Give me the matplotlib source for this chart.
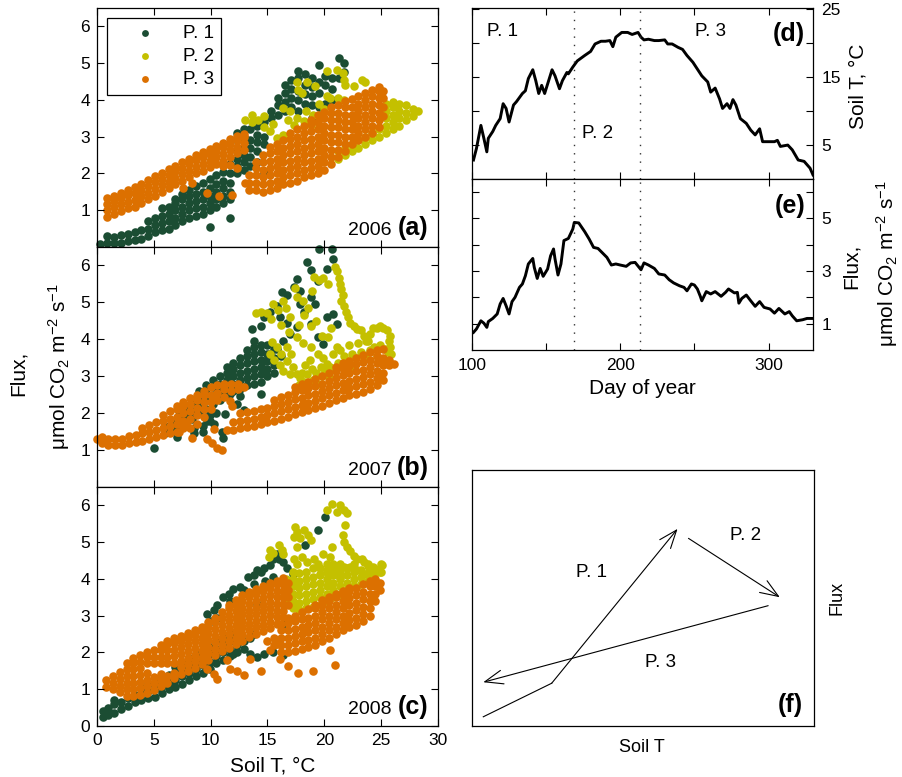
import matplotlib
matplotlib.use("Agg")
import matplotlib.pyplot as plt
from matplotlib.patches import ArrowStyle

plt.rcParams['font.family'] = ['Liberation Sans', 'DejaVu Sans']
plt.rcParams['mathtext.fontset'] = 'custom'
plt.rcParams['mathtext.rm'] = 'Liberation Sans'
plt.rcParams['mathtext.it'] = 'Liberation Sans:italic'
plt.rcParams['mathtext.bf'] = 'Liberation Sans:bold'

# ---------------------------------------------------------------------------
# Flux vs soil temperature, grouped by seasonal period.
# Each entry is (soil T, [flux values observed at that soil T]).
# ---------------------------------------------------------------------------
period_labels = ["P. 1", "P. 2", "P. 3"]
period_colors = ["#1b4d33", "#c4c000", "#dc7000"]
years = ["2006", "2007", "2008"]
panel_tags = ["(a)", "(b)", "(c)"]

p1_2006 = [
    (0.3, [0.08]), (0.9, [0.12, 0.3]), (1.5, [0.1, 0.28]), (2.1, [0.12, 0.32]),
    (2.7, [0.15, 0.35]), (3.3, [0.18, 0.4]), (3.9, [0.22, 0.45]),
    (4.5, [0.3, 0.5, 0.7]), (5.1, [0.4, 0.6, 0.8]), (5.7, [0.45, 0.65, 0.85, 1.05]),
    (6.3, [0.5, 0.7, 0.9, 1.1]), (6.9, [0.6, 0.8, 1.0, 1.2, 1.3]),
    (7.5, [0.7, 0.9, 1.1, 1.3, 1.45]), (8.1, [0.8, 1.0, 1.2, 1.4, 1.55]),
    (8.7, [0.85, 1.05, 1.25, 1.45, 1.65]), (9.3, [0.9, 1.1, 1.3, 1.5, 1.75]),
    (9.9, [0.55, 1.0, 1.2, 1.4, 1.6, 1.85]), (10.5, [1.1, 1.3, 1.5, 1.7, 1.95]),
    (11.1, [1.2, 1.4, 1.6, 1.8, 2.05]), (11.7, [0.8, 1.3, 1.5, 1.75, 2.0, 2.25]),
    (12.3, [2.0, 2.2, 2.4, 2.6, 2.9, 3.1]), (12.9, [2.1, 2.3, 2.5, 2.7, 3.0, 3.2]),
    (13.5, [2.2, 2.45, 2.7, 2.9, 3.2]), (14.1, [2.3, 2.6, 2.85, 3.05, 3.3]),
    (14.7, [2.0, 2.8, 3.0, 3.4]), (15.3, [3.5, 3.7]), (15.9, [3.6, 3.85, 4.05]),
    (16.5, [3.7, 3.95, 4.2, 4.4]), (17.1, [3.8, 4.05, 4.3, 4.55]),
    (17.7, [3.7, 4.0, 4.25, 4.6, 4.8]), (18.3, [3.9, 4.15, 4.4, 4.7]),
    (18.9, [3.5, 3.85, 4.1, 4.35, 4.6]), (19.5, [3.8, 4.2, 4.5, 4.95]),
    (20.1, [3.9, 4.4, 4.65]), (20.7, [4.0, 4.3, 4.6]), (21.3, [4.6, 5.14]),
    (21.7, [4.75, 5.0]),
]
p2_2006 = [
    (13.0, [3.45]), (13.6, [3.6, 3.4]), (14.2, [3.45]), (14.7, [3.25, 3.55]),
    (15.2, [3.15]), (15.5, [3.35]), (15.8, [2.96]), (16.4, [3.05, 3.78]),
    (16.8, [3.45]), (17.0, [3.7]), (17.3, [3.33]), (17.6, [3.5, 4.5]),
    (17.7, [4.28]), (18.0, [4.2]), (18.2, [3.42]), (18.4, [3.7]), (18.5, [4.5]),
    (18.8, [3.33]), (19.0, [3.6]), (19.2, [4.37]), (19.5, [3.9]), (20.0, [3.75]),
    (20.2, [4.1, 4.78]), (20.5, [4.05]), (21.1, [4.82]), (21.2, [4.05]),
    (21.6, [4.73]), (21.7, [4.0, 4.55]), (21.8, [4.41]), (22.6, [4.37]),
    (23.3, [4.55]), (23.6, [4.5]),
    (21.2, [2.4, 2.6]), (21.8, [2.5, 2.7]), (22.4, [2.6, 2.8]), (23.0, [2.7, 2.9]),
    (23.6, [2.8, 3.0]), (24.2, [2.9, 3.1]), (24.8, [3.0, 3.2]),
    (25.4, [3.1, 3.3, 3.5, 3.7, 3.9]), (26.0, [3.2, 3.4, 3.6, 3.8, 3.95]),
    (26.6, [3.3, 3.5, 3.7, 3.9]), (27.2, [3.45, 3.65, 3.85]), (27.8, [3.55, 3.75]),
    (28.2, [3.7]),
]
p3_2006 = [
    (0.9, [0.82, 1.0, 1.18, 1.32]), (1.5, [0.9, 1.08, 1.26, 1.4]),
    (2.1, [0.98, 1.16, 1.34, 1.48]), (2.7, [1.05, 1.23, 1.41, 1.55]),
    (3.3, [1.1, 1.28, 1.46, 1.62]), (3.9, [1.2, 1.38, 1.56, 1.72]),
    (4.5, [1.3, 1.48, 1.66, 1.82]), (5.1, [1.4, 1.58, 1.76, 1.92]),
    (5.7, [1.5, 1.68, 1.86, 2.02]), (6.3, [1.6, 1.78, 1.96, 2.12]),
    (6.9, [1.7, 1.88, 2.06, 2.2]), (7.5, [1.8, 1.98, 2.16, 2.3]),
    (8.1, [1.9, 2.08, 2.26, 2.4]), (8.7, [2.0, 2.18, 2.36, 2.5]),
    (9.3, [2.08, 2.26, 2.44, 2.58]), (9.9, [2.17, 2.35, 2.53, 2.66]),
    (10.5, [2.26, 2.44, 2.62, 2.74]), (11.1, [2.35, 2.53, 2.71, 2.84]),
    (11.7, [2.45, 2.63, 2.81, 2.95]), (12.3, [2.55, 2.73, 2.9, 3.02]),
    (12.9, [2.65, 2.82, 2.98, 3.07]),
    (7.6, [1.6]), (8.4, [1.74]), (9.7, [1.47]), (10.7, [1.38]), (11.1, [2.2]),
    (11.9, [1.42]), (11.7, [2.24]), (12.3, [2.15]), (13.0, [1.75]),
    (13.4, [1.55, 1.75, 1.95]), (14.0, [1.55, 1.75, 1.95, 2.15, 2.3]),
    (14.6, [1.5, 1.7, 1.9, 2.1, 2.3, 2.5]),
    (15.2, [1.55, 1.75, 1.95, 2.15, 2.35, 2.55, 2.72]),
    (15.8, [1.6, 1.8, 2.0, 2.2, 2.4, 2.6, 2.8]),
    (16.4, [1.7, 1.9, 2.1, 2.3, 2.5, 2.7, 2.9]),
    (17.0, [1.75, 1.95, 2.15, 2.35, 2.55, 2.75, 2.95, 3.1]),
    (17.6, [1.8, 2.0, 2.2, 2.4, 2.6, 2.8, 3.0, 3.2]),
    (18.2, [1.9, 2.1, 2.3, 2.5, 2.7, 2.9, 3.1, 3.3]),
    (18.8, [1.95, 2.15, 2.35, 2.55, 2.75, 2.95, 3.15, 3.35, 3.45]),
    (19.4, [2.0, 2.2, 2.4, 2.6, 2.8, 3.0, 3.2, 3.4, 3.58]),
    (20.0, [2.1, 2.3, 2.5, 2.7, 2.9, 3.1, 3.3, 3.5, 3.68]),
    (20.6, [2.25, 2.45, 2.65, 2.85, 3.05, 3.25, 3.45, 3.65, 3.8]),
    (21.2, [2.45, 2.65, 2.85, 3.05, 3.25, 3.45, 3.65, 3.85]),
    (21.8, [2.6, 2.8, 3.0, 3.2, 3.4, 3.6, 3.8, 3.98]),
    (22.4, [2.8, 3.0, 3.2, 3.4, 3.6, 3.8, 4.02]),
    (23.0, [2.9, 3.1, 3.3, 3.5, 3.7, 3.9, 4.1]),
    (23.6, [3.0, 3.2, 3.4, 3.6, 3.8, 4.0, 4.18]),
    (24.2, [3.1, 3.3, 3.5, 3.7, 3.9, 4.1, 4.26]),
    (24.8, [3.25, 3.45, 3.65, 3.85, 4.05, 4.25, 4.35]),
    (25.2, [3.55, 3.8, 4.05, 4.25]),
]

p1_2007 = [
    (5.0, [1.06]), (6.0, [1.45, 1.65]), (6.6, [1.55, 1.75]), (7.0, [1.35]),
    (7.2, [1.65, 1.85, 2.05]), (7.8, [1.75, 1.95, 2.15]), (8.4, [1.85, 2.05, 2.3]),
    (8.5, [1.45, 1.6]), (9.0, [2.0, 2.2, 2.45, 2.6]), (9.3, [1.5, 1.65]),
    (9.6, [2.1, 2.35, 2.55, 2.75]), (9.9, [1.8, 1.95]), (10.2, [2.25, 2.45, 2.7, 2.9]),
    (10.5, [2.0]), (10.8, [2.35, 2.6, 2.8, 3.0]), (11.4, [2.5, 2.7, 2.9, 3.1, 3.25]),
    (12.0, [2.6, 2.8, 3.0, 3.2, 3.35]), (12.6, [2.65, 2.9, 3.1, 3.3, 3.5]),
    (13.2, [2.75, 2.95, 3.15, 3.35, 3.55, 3.7]), (13.8, [2.8, 3.0, 3.2, 3.4, 3.6, 3.8]),
    (14.4, [2.85, 3.05, 3.25, 3.45, 3.65, 3.85]), (15.0, [3.0, 3.2, 3.4, 3.6, 3.85]),
    (15.6, [3.1, 3.3, 3.5, 3.75]),
    (11.7, [2.51]), (12.3, [2.24]), (12.9, [2.09]), (11.1, [1.33]), (11.0, [1.5]),
    (10.3, [1.7]), (9.7, [1.79]), (11.3, [1.97]), (12.6, [2.47]), (14.4, [2.51]),
    (13.6, [4.28]), (13.8, [3.95]), (14.4, [4.35]), (14.7, [4.6, 3.42]),
    (15.2, [4.73, 3.6]), (15.8, [4.9, 3.75]), (16.3, [5.28]), (16.7, [5.2, 4.45]),
    (17.3, [5.41]), (17.6, [5.64, 4.32]), (17.9, [5.3, 4.96]), (18.5, [6.09]),
    (18.8, [5.87, 5.14, 4.42]), (19.2, [4.95]), (19.4, [5.59, 4.05]), (19.9, [3.87]),
    (20.2, [5.91, 4.6]), (19.5, [6.45]), (20.7, [6.45]), (20.8, [6.18, 4.69]),
    (21.1, [4.41]), (18.2, [4.73]), (17.0, [4.14]), (16.4, [3.96]), (16.1, [4.6]),
    (16.2, [3.55]),
]
p2_2007 = [
    (20.9, [5.95]), (21.1, [5.85]), (21.3, [5.65]), (21.4, [5.5]), (21.5, [5.35, 5.05]),
    (21.6, [5.2]), (21.7, [4.9]), (21.9, [4.75]), (22.1, [4.6]), (22.3, [4.45]),
    (22.6, [4.35]), (22.9, [4.28]), (23.2, [4.25]), (23.5, [4.1]), (23.7, [3.95]),
    (24.0, [4.15]), (24.3, [4.3]), (24.6, [4.3]), (24.9, [4.35, 3.85]), (25.2, [4.3]),
    (25.5, [4.25]), (25.8, [4.1]), (25.7, [3.95]), (25.8, [3.8]), (25.9, [3.6]),
    (25.6, [3.65]), (25.3, [3.75]),
    (14.0, [4.7]), (14.4, [4.75]), (15.0, [4.72]), (15.3, [4.55]), (15.5, [4.95]),
    (15.9, [4.8]), (16.4, [5.05]), (16.6, [4.85]), (17.0, [4.6]), (17.6, [5.15]),
    (18.1, [5.05]), (18.6, [4.85]), (18.9, [5.3]), (19.1, [5.7]), (19.5, [5.6]),
    (19.9, [5.65]), (20.3, [5.5]), (17.4, [5.4]), (18.2, [4.65]), (18.8, [4.35]),
    (19.3, [4.5]), (19.8, [4.1]), (20.3, [4.05]), (20.6, [4.3]), (17.8, [4.4]),
    (16.9, [4.2]), (16.2, [4.4]),
    (15.4, [3.92]), (15.8, [3.78]), (16.2, [3.6]), (16.7, [3.42, 3.8]), (17.2, [3.24]),
    (17.6, [3.06, 4.05]), (17.9, [2.95]), (15.2, [3.6]), (15.6, [3.45]), (16.1, [3.3]),
    (16.4, [3.15]), (17.0, [3.06]), (17.1, [3.6]), (18.1, [3.9]), (18.8, [3.78]),
    (19.4, [3.6]), (19.9, [3.5]), (20.2, [3.33]), (20.5, [3.25]), (20.8, [3.6]),
    (21.1, [3.78]), (21.4, [3.7]), (21.7, [3.55]),
    (17.8, [2.75]), (18.2, [2.85]), (18.6, [2.75]), (19.0, [2.9]), (19.4, [2.8]),
    (19.8, [3.0]), (18.0, [3.1]), (18.5, [3.05]), (18.9, [3.2]), (19.3, [3.1]),
    (19.7, [3.25]), (20.1, [3.15]), (18.3, [3.3]), (18.7, [3.45]), (20.4, [3.0]),
    (20.8, [3.2]), (21.2, [3.35]), (21.6, [3.3]), (22.0, [3.4]), (22.4, [3.6]),
    (22.8, [3.5]), (23.2, [3.65]), (23.6, [3.55]), (24.0, [3.7]), (24.4, [3.8]),
    (22.2, [3.85]), (23.0, [3.9]), (23.8, [3.95]), (24.6, [3.55]), (21.8, [3.15]),
    (22.6, [3.25]),
]
p3_2007 = [
    (0.0, [1.3]), (0.4, [1.2, 1.35]), (1.0, [1.15, 1.3]), (1.6, [1.15, 1.3]),
    (2.2, [1.15, 1.3]), (2.8, [1.2, 1.38]), (3.4, [1.22, 1.4]), (4.0, [1.25, 1.45, 1.6]),
    (4.6, [1.3, 1.5, 1.68]), (5.2, [1.35, 1.55, 1.75]), (5.8, [1.4, 1.6, 1.8, 1.95]),
    (6.4, [1.45, 1.65, 1.85, 2.05]), (7.0, [1.5, 1.7, 1.9, 2.1, 2.2]),
    (7.6, [1.6, 1.8, 2.0, 2.2, 2.3]), (8.2, [1.6, 1.85, 2.05, 2.25, 2.4]),
    (8.8, [1.7, 1.95, 2.15, 2.35, 2.5]), (9.4, [1.9, 2.1, 2.3, 2.5, 2.6]),
    (10.0, [2.1, 2.3, 2.5, 2.7]), (10.6, [2.35, 2.55, 2.75]), (11.2, [2.45, 2.65, 2.8]),
    (11.8, [2.6, 2.8]), (12.4, [2.65, 2.8]), (12.9, [2.7]),
    (8.4, [1.33]), (9.7, [1.29]), (10.1, [1.2]), (10.6, [1.06]), (11.0, [1.0]),
    (10.3, [1.56]), (11.7, [2.33]), (11.9, [2.2]), (7.2, [1.5]), (7.8, [1.7]),
    (11.4, [1.55]), (12.0, [1.55, 1.75]), (12.6, [1.6, 1.8, 2.0]),
    (13.2, [1.62, 1.82, 2.02]), (13.8, [1.65, 1.85, 2.05]), (14.4, [1.7, 1.9, 2.1]),
    (15.0, [1.75, 1.95, 2.15]), (15.6, [1.8, 2.0, 2.2, 2.35]),
    (16.2, [1.85, 2.05, 2.25, 2.45]), (16.8, [1.9, 2.1, 2.3, 2.5]),
    (17.4, [1.97, 2.17, 2.37, 2.57, 2.7]), (18.0, [2.02, 2.22, 2.42, 2.62, 2.8]),
    (18.6, [2.08, 2.28, 2.48, 2.68, 2.85]), (19.2, [2.13, 2.33, 2.53, 2.73, 2.93]),
    (19.8, [2.2, 2.4, 2.6, 2.8, 3.0]), (20.4, [2.28, 2.48, 2.68, 2.88, 3.08]),
    (21.0, [2.35, 2.55, 2.75, 2.95, 3.15, 3.25]),
    (21.6, [2.42, 2.62, 2.82, 3.02, 3.22, 3.35]),
    (22.2, [2.48, 2.68, 2.88, 3.08, 3.28, 3.42]),
    (22.8, [2.53, 2.73, 2.93, 3.13, 3.33, 3.5]),
    (23.4, [2.58, 2.78, 2.98, 3.18, 3.38, 3.58]),
    (24.0, [2.65, 2.85, 3.05, 3.25, 3.45, 3.65]),
    (24.6, [2.75, 2.95, 3.15, 3.35, 3.55, 3.7]),
    (25.2, [2.9, 3.1, 3.3, 3.5, 3.75]), (25.7, [3.3, 3.45]), (26.1, [3.33]),
]

p1_2008 = [
    (0.5, [0.25, 0.4]), (1.0, [0.3, 0.5]), (1.5, [0.35, 0.6, 0.7]), (2.1, [0.45, 0.65]),
    (2.7, [0.55, 0.75]), (3.3, [0.65, 0.85]), (3.9, [0.7, 0.9, 1.05]),
    (4.5, [0.75, 0.95, 1.15]), (5.1, [0.8, 1.0, 1.2]), (5.7, [0.9, 1.1, 1.3]),
    (6.3, [1.0, 1.2, 1.4]), (6.9, [1.05, 1.25, 1.45, 1.6]),
    (7.5, [1.15, 1.35, 1.55, 1.75]), (8.1, [1.25, 1.45, 1.65, 1.85]),
    (8.7, [1.35, 1.55, 1.75, 1.95]), (9.3, [1.45, 1.65, 1.85, 2.05]),
    (9.9, [1.55, 1.75, 1.95, 2.15]), (10.5, [1.7, 1.9, 2.1, 2.3]),
    (11.1, [1.8, 2.0, 2.2, 2.4]), (11.7, [1.9, 2.1, 2.3, 2.5]),
    (12.3, [2.0, 2.2, 2.4]), (12.9, [2.1, 2.3]),
    (9.7, [3.05]), (10.3, [3.15]), (10.6, [3.3, 2.95]), (11.1, [3.5]), (11.6, [3.6]),
    (12.0, [3.73, 1.97]), (12.6, [3.78]), (12.9, [3.7]), (13.3, [4.05]), (13.8, [4.1, 3.85, 2.5]),
    (14.1, [4.23, 3.33, 1.88]), (14.4, [4.2]), (14.7, [4.3, 1.97]), (15.2, [4.37]),
    (15.5, [4.55, 4.05, 2.0]), (15.8, [4.69]), (16.0, [4.55]), (16.4, [4.45, 1.92]),
    (16.7, [4.3, 2.92]), (14.8, [3.95]), (11.7, [3.4]), (10.0, [2.85]), (19.4, [5.32]),
    (20.1, [5.68]), (18.3, [4.91]), (17.2, [4.14]), (16.6, [2.78]), (13.5, [2.38, 1.97]),
]
p2_2008 = [
    (16.6, [3.4, 3.6, 3.8, 4.0]), (17.2, [3.2, 3.4, 3.6, 3.8, 4.0, 4.2]),
    (17.8, [3.15, 3.35, 3.55, 3.75, 3.95, 4.15]), (18.4, [3.2, 3.4, 3.6, 3.8, 4.0, 4.2]),
    (19.0, [3.25, 3.45, 3.65, 3.85, 4.05, 4.3]), (19.6, [3.3, 3.5, 3.7, 3.9, 4.1, 4.3]),
    (20.2, [3.4, 3.6, 3.8, 4.0, 4.2, 4.4]), (20.8, [3.5, 3.7, 3.9, 4.1, 4.3]),
    (21.4, [3.6, 3.8, 4.0, 4.2, 4.4]), (22.0, [3.7, 3.9, 4.1, 4.3]),
    (22.6, [3.8, 4.0, 4.2, 4.4]), (23.2, [3.85, 4.05, 4.25]), (23.8, [3.95, 4.15, 4.35]),
    (24.4, [4.1, 4.3]), (25.0, [4.2, 4.4]),
    (20.2, [5.87]), (20.7, [6.05]), (21.4, [6.0]), (21.7, [5.87]), (22.0, [5.8]),
    (21.1, [5.82]), (21.8, [5.46]), (21.6, [5.19]), (21.7, [5.0]), (22.0, [4.87]),
    (22.3, [4.75]), (22.6, [4.62]), (22.9, [4.55]), (23.3, [4.55]), (23.5, [4.45]),
    (23.8, [4.4]), (24.3, [4.32]), (25.1, [4.37]), (17.4, [5.41]), (17.6, [5.28]),
    (17.9, [5.1]), (17.3, [5.15]), (18.2, [5.32]), (18.6, [5.19]), (18.8, [5.05]),
    (15.2, [4.78]), (15.1, [4.6]), (15.5, [4.7]), (16.0, [4.91]), (16.3, [4.78]),
    (16.4, [4.69]), (17.6, [4.87, 4.41]), (18.0, [4.6]), (18.5, [4.46]), (17.3, [4.55]),
    (19.1, [4.55]), (19.4, [4.41]), (19.9, [4.69]), (20.5, [4.6]), (20.8, [4.41]),
    (21.1, [4.23]), (21.7, [4.32]), (22.3, [4.32]), (22.9, [4.23]), (23.5, [4.14]),
    (24.0, [4.05]), (24.6, [4.23]), (24.9, [4.19]), (20.7, [4.87]), (21.0, [4.14]),
    (21.4, [4.05]), (20.2, [4.23]), (19.6, [4.14]),
]
p3_2008 = [
    (0.8, [1.05, 1.25]), (1.4, [1.0, 1.18, 1.36]), (2.0, [0.92, 1.1, 1.28, 1.46]),
    (2.6, [0.82, 1.0, 1.18, 1.36, 1.54, 1.7]), (3.2, [0.82, 1.0, 1.18, 1.36, 1.54, 1.72, 1.85]),
    (3.8, [0.85, 1.03, 1.21, 1.39, 1.57, 1.75, 1.92]),
    (4.4, [0.9, 1.08, 1.26, 1.44, 1.7, 1.88, 2.0]),
    (5.0, [0.98, 1.16, 1.34, 1.7, 1.88, 2.06]),
    (5.6, [1.08, 1.26, 1.42, 1.7, 1.88, 2.06, 2.2]),
    (6.2, [1.18, 1.36, 1.7, 1.88, 2.06, 2.24, 2.32]),
    (6.8, [1.3, 1.45, 1.72, 1.9, 2.08, 2.26, 2.4]),
    (7.4, [1.42, 1.6, 1.78, 1.96, 2.14, 2.32, 2.45]),
    (8.0, [1.5, 1.68, 1.86, 2.04, 2.22, 2.4, 2.52]),
    (8.6, [1.58, 1.76, 1.94, 2.12, 2.3, 2.48, 2.6]),
    (9.2, [1.68, 1.86, 2.04, 2.22, 2.4, 2.58, 2.68]),
    (9.8, [1.8, 1.98, 2.16, 2.34, 2.52, 2.7, 2.82]),
    (10.4, [1.92, 2.1, 2.28, 2.46, 2.64, 2.82, 2.95]),
    (11.0, [2.03, 2.21, 2.39, 2.57, 2.75, 2.93, 3.1]),
    (11.6, [2.13, 2.31, 2.49, 2.67, 2.85, 3.03, 3.21, 3.3]),
    (12.2, [2.22, 2.4, 2.58, 2.76, 2.94, 3.12, 3.3, 3.42]),
    (12.8, [2.32, 2.5, 2.68, 2.86, 3.04, 3.22, 3.4, 3.55]),
    (13.4, [2.42, 2.6, 2.78, 2.96, 3.14, 3.32, 3.5, 3.65]),
    (14.0, [2.5, 2.68, 2.86, 3.04, 3.22, 3.4, 3.58, 3.72]),
    (14.6, [2.58, 2.76, 2.94, 3.12, 3.3, 3.48, 3.66, 3.8]),
    (15.2, [2.66, 2.84, 3.02, 3.2, 3.38, 3.56, 3.74, 3.88]),
    (15.8, [2.78, 2.96, 3.14, 3.32, 3.5, 3.68, 3.86, 3.95]),
    (16.4, [2.96, 3.14, 3.32, 3.5, 3.68, 3.86, 4.02]), (16.8, [3.3, 3.5, 3.7, 3.9]),
    (15.0, [2.3]), (15.6, [2.2, 2.4]), (16.2, [2.0, 2.2, 2.4, 2.6, 2.78]),
    (16.8, [2.0, 2.2, 2.4, 2.6, 2.8, 2.95]), (17.4, [2.05, 2.25, 2.45, 2.65, 2.85, 3.0]),
    (18.0, [2.1, 2.3, 2.5, 2.7, 2.9, 3.1]), (18.6, [2.15, 2.35, 2.55, 2.75, 2.95, 3.18]),
    (19.2, [2.2, 2.4, 2.6, 2.8, 3.0, 3.2, 3.3]), (19.8, [2.3, 2.5, 2.7, 2.9, 3.1, 3.3, 3.42]),
    (20.4, [2.4, 2.6, 2.8, 3.0, 3.2, 3.4, 3.5]), (21.0, [2.5, 2.7, 2.9, 3.1, 3.3, 3.5, 3.6]),
    (21.6, [2.6, 2.8, 3.0, 3.2, 3.4, 3.6, 3.68]),
    (22.2, [2.68, 2.88, 3.08, 3.28, 3.48, 3.68, 3.75]),
    (22.8, [2.75, 2.95, 3.15, 3.35, 3.55, 3.75]),
    (23.4, [2.85, 3.05, 3.25, 3.45, 3.65, 3.85]),
    (24.0, [3.0, 3.2, 3.4, 3.6, 3.8, 3.95]), (24.5, [3.4, 3.6, 3.8, 4.0]), (24.9, [3.7, 3.9]),
    (20.5, [2.06]), (20.9, [1.65]), (19.0, [1.49]), (17.7, [1.45]), (16.8, [1.63]),
    (14.4, [1.49]), (16.1, [1.83]), (15.2, [2.06]), (15.8, [2.24]), (11.7, [1.56]),
    (12.3, [1.5]), (12.9, [1.38]), (13.5, [1.83]), (10.3, [1.42]), (10.6, [1.29]),
    (9.7, [1.56]), (11.4, [1.8]),
]

scatter_data = [
    [p1_2006, p2_2006, p3_2006],
    [p1_2007, p2_2007, p3_2007],
    [p1_2008, p2_2008, p3_2008],
]

# Seasonal course: daily soil temperature (°C) and flux
soil_day = [101, 103, 106, 108, 110, 111, 114, 116, 119, 121,
            123, 125, 128, 130, 134, 136, 138, 141, 143, 145,
            147, 149, 151, 154, 156, 159, 161, 164, 165, 168,
            171, 176, 180, 183, 187, 190, 193, 195, 197, 201,
            205, 208, 212, 214, 216, 219, 223, 226, 230, 232,
            235, 239, 242, 245, 249, 252, 255, 259, 261, 264,
            267, 269, 272, 274, 276, 278, 281, 285, 288, 291,
            294, 296, 301, 304, 306, 308, 313, 316, 320, 324,
            328, 330]
soil_temp = [2.8, 4.5, 7.9, 6.0, 4.0, 6.0, 7.0, 7.9, 8.9, 11.1,
             10.4, 8.4, 10.9, 11.4, 12.6, 13.0, 14.8, 16.1, 14.5, 12.6,
             13.8, 12.6, 14.0, 16.1, 15.2, 13.3, 14.5, 15.7, 15.5, 16.5,
             17.4, 18.2, 18.8, 19.9, 20.3, 20.3, 20.4, 19.5, 20.9, 21.6,
             21.6, 21.3, 21.6, 20.9, 20.5, 20.6, 20.4, 20.4, 20.5, 19.9,
             19.9, 19.4, 19.1, 18.2, 17.2, 16.2, 15.2, 14.3, 12.8, 13.4,
             11.8, 10.4, 11.1, 10.4, 11.7, 10.9, 8.9, 8.2, 7.2, 6.5,
             7.4, 5.5, 5.5, 5.5, 5.7, 4.8, 5.0, 4.3, 2.8, 2.6,
             1.6, 0.6]
flux_day = [101, 103, 106, 108, 110, 111, 114, 117, 119, 121,
            123, 125, 127, 129, 132, 134, 136, 138, 141, 142,
            144, 146, 148, 151, 153, 155, 156, 158, 160, 162,
            165, 168, 169, 172, 176, 179, 182, 185, 188, 191,
            194, 197, 200, 204, 207, 210, 214, 216, 219, 223,
            226, 230, 233, 236, 240, 243, 245, 248, 250, 252,
            254, 255, 258, 261, 264, 268, 271, 273, 277, 279,
            280, 282, 285, 288, 291, 294, 297, 301, 304, 307,
            311, 314, 316, 319, 323, 326, 330]
flux_value = [0.67, 0.80, 1.11, 1.02, 0.86, 1.08, 1.20, 1.37, 1.75, 1.96,
              1.68, 1.37, 1.84, 2.00, 2.38, 2.51, 2.82, 3.27, 3.48, 3.14,
              2.72, 3.10, 2.80, 3.08, 3.58, 3.84, 3.46, 2.85, 3.27, 4.16,
              4.24, 4.60, 4.85, 4.83, 4.50, 4.22, 3.90, 3.86, 3.69, 3.52,
              3.23, 3.27, 3.23, 3.18, 3.31, 3.33, 3.05, 3.31, 3.23, 3.10,
              2.89, 2.85, 2.67, 2.55, 2.44, 2.38, 2.25, 2.51, 2.47, 2.32,
              2.04, 1.87, 2.22, 2.13, 2.22, 2.04, 2.19, 2.32, 2.17, 2.19,
              1.78, 1.96, 2.09, 1.87, 1.66, 1.84, 1.62, 1.56, 1.40, 1.58,
              1.37, 1.46, 1.30, 1.11, 1.15, 1.20, 1.20]
period_bounds = [169, 213]

# Conceptual hysteresis loop (axes-fraction coordinates)
loop_p1 = [(0.033, 0.036), (0.233, 0.167), (0.601, 0.770)]
loop_p2 = [(0.633, 0.733), (0.900, 0.503)]
loop_p3 = [(0.866, 0.470), (0.033, 0.171)]

# ---------------------------------------------------------------------------
W, H = 903, 777
fig = plt.figure(figsize=(W / 100, H / 100), dpi=100)
fig.patch.set_facecolor("white")


def axes_px(left, top, right, bottom):
    return fig.add_axes([left / W, 1 - bottom / H, (right - left) / W, (bottom - top) / H])


def style(ax, size=12.5):
    ax.tick_params(direction="in", top=True, right=True, length=5, width=0.8,
                   labelsize=size, pad=5)
    for sp in ax.spines.values():
        sp.set_linewidth(0.9)


def expand(cols):
    xs, ys = [], []
    for x, yl in cols:
        for y in yl:
            xs.append(x)
            ys.append(y)
    return xs, ys


left_rows = [(8, 247), (247, 487), (487, 726)]
for i, (top, bottom) in enumerate(left_rows):
    ax = axes_px(97, top, 438, bottom)
    style(ax)
    handles = []
    for series, color, lab in zip(scatter_data[i], period_colors, period_labels):
        xs, ys = expand(series)
        h = ax.scatter(xs, ys, s=38, c=color, linewidths=0, label=lab, clip_on=False)
        handles.append(h)
    ax.set_xlim(0, 30)
    ax.set_ylim(0, 6.5)
    ax.set_xticks([0, 5, 10, 15, 20, 25, 30])
    if i < 2:
        ax.set_yticks([1, 2, 3, 4, 5, 6])
        ax.set_xticklabels([])
    else:
        ax.set_yticks([0, 1, 2, 3, 4, 5, 6])
    ax.text(0.973, 0.05, panel_tags[i], transform=ax.transAxes, ha="right",
            va="baseline", fontsize=18, fontweight="bold")
    ax.text(0.865, 0.05, years[i], transform=ax.transAxes, ha="right",
            va="baseline", fontsize=14)
    if i == 0:
        leg = ax.legend(handles=handles, loc="upper left", bbox_to_anchor=(0.029, 0.958),
                        borderaxespad=0, fancybox=False, edgecolor="black", framealpha=1,
                        handlelength=3.4, handletextpad=0.3, labelspacing=0.32,
                        borderpad=0.35, fontsize=13.5, scatterpoints=1, markerscale=0.8)
        leg.get_frame().set_linewidth(0.9)

fig.text(273 / W, 1 - 766 / H, "Soil T, °C", ha="center", va="center", fontsize=15)
fig.text(18.5 / W, 1 - 373 / H, "Flux,", rotation=90, ha="center", va="center", fontsize=15)
fig.text(59 / W, 1 - 367 / H, "μmol CO$_2$ m$^{-2}$ s$^{-1}$", rotation=90,
         ha="center", va="center", fontsize=15)

# Soil temperature course
axd = axes_px(472, 8, 813, 179)
style(axd)
axd.plot(soil_day, soil_temp, color="black", lw=2.1)
axd.set_xlim(100, 330)
axd.set_ylim(0, 25.2)
axd.set_xticks([100, 150, 200, 250, 300])
axd.set_xticklabels([])
axd.set_yticks([5, 10, 15, 20, 25])
axd.set_yticklabels(["5", "", "15", "", "25"])
axd.yaxis.tick_right()
axd.tick_params(left=True, right=True, labelleft=False, labelright=True, pad=6)
axd.text(0.044, 0.836, "P. 1", transform=axd.transAxes, fontsize=13.5, va="baseline")
axd.text(0.655, 0.836, "P. 3", transform=axd.transAxes, fontsize=13.5, va="baseline")
axd.text(0.323, 0.24, "P. 2", transform=axd.transAxes, fontsize=13.5, va="baseline")
axd.text(0.977, 0.807, "(d)", transform=axd.transAxes, ha="right", va="baseline",
         fontsize=18, fontweight="bold")

# Flux course
axe = axes_px(472, 179, 813, 350)
style(axe)
axe.plot(flux_day, flux_value, color="black", lw=2.1)
axe.set_xlim(100, 330)
axe.set_ylim(0, 6.5)
axe.set_xticks([100, 150, 200, 250, 300])
axe.set_xticklabels(["100", "", "200", "", "300"])
axe.set_yticks([1, 2, 3, 4, 5, 6])
axe.set_yticklabels(["1", "", "3", "", "5", ""])
axe.yaxis.tick_right()
axe.tick_params(left=True, right=True, labelleft=False, labelright=True, pad=6)
axe.text(0.977, 0.80, "(e)", transform=axe.transAxes, ha="right", va="baseline",
         fontsize=18, fontweight="bold")

for ax in (axd, axe):
    for d in period_bounds:
        ax.axvline(d, color="#333333", lw=1.0, ls=(0, (1, 5)))

fig.text(642 / W, 1 - 388 / H, "Day of year", ha="center", va="center", fontsize=15)
fig.text(858 / W, 1 - 86 / H, "Soil T, °C", rotation=90, ha="center", va="center", fontsize=15)
fig.text(851 / W, 1 - 266 / H, "Flux,", rotation=90, ha="center", va="center", fontsize=15)
fig.text(887 / W, 1 - 264 / H, "μmol CO$_2$ m$^{-2}$ s$^{-1}$", rotation=90,
         ha="center", va="center", fontsize=15)

# Conceptual loop
axf = axes_px(472, 470, 814, 726)
axf.set_xlim(0, 1)
axf.set_ylim(0, 1)
axf.set_xticks([])
axf.set_yticks([])
for sp in axf.spines.values():
    sp.set_linewidth(0.9)

head = ArrowStyle("->", head_length=13, head_width=5)
arrow_kw = dict(arrowstyle=head, lw=0.8, color="black", shrinkA=0, shrinkB=0,
                mutation_scale=1)
axf.plot([loop_p1[0][0], loop_p1[1][0]], [loop_p1[0][1], loop_p1[1][1]],
         color="black", lw=0.8)
axf.annotate("", xy=loop_p1[2], xytext=loop_p1[1], arrowprops=arrow_kw)
axf.annotate("", xy=loop_p2[1], xytext=loop_p2[0], arrowprops=arrow_kw)
axf.annotate("", xy=loop_p3[1], xytext=loop_p3[0], arrowprops=arrow_kw)
axf.text(0.35, 0.599, "P. 1", ha="center", va="center", fontsize=13.5)
axf.text(0.80, 0.746, "P. 2", ha="center", va="center", fontsize=13.5)
axf.text(0.552, 0.249, "P. 3", ha="center", va="center", fontsize=13.5)
axf.text(0.93, 0.082, "(f)", ha="center", va="center", fontsize=18, fontweight="bold")
fig.text(641.7 / W, 1 - 747.7 / H, "Soil T", ha="center", va="center", fontsize=13)
fig.text(836.7 / W, 1 - 598 / H, "Flux", rotation=90, ha="center", va="center", fontsize=13)

fig.savefig("out.png", dpi=100)
